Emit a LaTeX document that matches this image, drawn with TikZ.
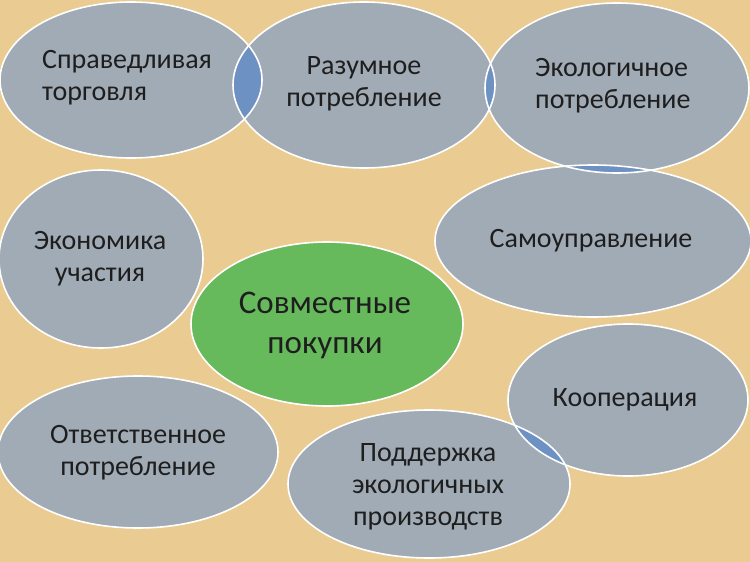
\documentclass[tikz,border=0pt]{standalone}
\usepackage{fontspec}
\setmainfont{Carlito}
\usetikzlibrary{shapes.geometric}
\definecolor{bg}{RGB}{234,204,146}
\definecolor{oval}{RGB}{161,171,181}
\definecolor{lens}{RGB}{110,145,195}
\definecolor{greenoval}{RGB}{102,186,92}
\definecolor{ink}{RGB}{30,30,30}
\tikzset{
  ovalfill/.style={fill=oval},
  ovalline/.style={draw=white, line width=1.6pt},
  lab/.style={text=ink, font=\fontsize{28}{32}\selectfont, inner sep=0pt},
  labbig/.style={text=ink, font=\fontsize{33}{40}\selectfont, inner sep=0pt}
}
\newcommand{\ov}[5]{% name, cx, cy, rx, ry
  \node[ellipse, inner sep=0pt, minimum width=#4*2pt, minimum height=#5*2pt] (#1) at (#2,#3) {};}
\begin{document}
\begin{tikzpicture}[x=1pt,y=-1pt]
\useasboundingbox (0,0) rectangle (750,562);
\clip (0,0) rectangle (750,562);
\fill[bg] (0,0) rectangle (750,562);
% ellipse nodes (geometry)
\ov{e1}{131}{80}{131}{78}
\ov{e2}{364}{85}{131}{83}
\ov{e3}{617}{88}{132}{85}
\ov{e4}{101}{259}{102}{89}
\ov{e5}{593}{241}{158}{76}
\ov{e6}{327}{324}{136}{82}
\ov{e7}{628}{400}{120}{76}
\ov{e8}{138}{452}{140}{76}
\ov{e9}{429}{484}{141}{74}
% fills
\fill[oval] (e1.center) ellipse [x radius=131pt, y radius=78pt];
\fill[oval] (e2.center) ellipse [x radius=131pt, y radius=83pt];
\fill[oval] (e3.center) ellipse [x radius=132pt, y radius=85pt];
\fill[oval] (e4.center) ellipse [x radius=102pt, y radius=89pt];
\fill[oval] (e5.center) ellipse [x radius=158pt, y radius=76pt];
\fill[greenoval] (e6.center) ellipse [x radius=136pt, y radius=82pt];
\fill[oval] (e7.center) ellipse [x radius=120pt, y radius=76pt];
\fill[oval] (e8.center) ellipse [x radius=140pt, y radius=76pt];
\fill[oval] (e9.center) ellipse [x radius=141pt, y radius=74pt];
% overlap lenses
\begin{scope}
  \clip (e1.center) ellipse [x radius=131pt, y radius=78pt];
  \fill[lens] (e2.center) ellipse [x radius=131pt, y radius=83pt];
\end{scope}
\begin{scope}
  \clip (e2.center) ellipse [x radius=131pt, y radius=83pt];
  \fill[lens] (e3.center) ellipse [x radius=132pt, y radius=85pt];
\end{scope}
\begin{scope}
  \clip (e3.center) ellipse [x radius=132pt, y radius=85pt];
  \fill[lens] (e5.center) ellipse [x radius=158pt, y radius=76pt];
\end{scope}
\begin{scope}
  \clip (e7.center) ellipse [x radius=120pt, y radius=76pt];
  \fill[lens] (e9.center) ellipse [x radius=141pt, y radius=74pt];
\end{scope}
% borders
\draw[ovalline] (e1.center) ellipse [x radius=131pt, y radius=78pt];
\draw[ovalline] (e2.center) ellipse [x radius=131pt, y radius=83pt];
\draw[ovalline] (e3.center) ellipse [x radius=132pt, y radius=85pt];
\draw[ovalline] (e4.center) ellipse [x radius=102pt, y radius=89pt];
\draw[ovalline] (e5.center) ellipse [x radius=158pt, y radius=76pt];
\draw[ovalline] (e6.center) ellipse [x radius=136pt, y radius=82pt];
\draw[ovalline] (e7.center) ellipse [x radius=120pt, y radius=76pt];
\draw[ovalline] (e8.center) ellipse [x radius=140pt, y radius=76pt];
\draw[ovalline] (e9.center) ellipse [x radius=141pt, y radius=74pt];
% labels
\node[lab, align=left, anchor=west] (t1) at (42,78) {Справедливая\\торговля};
\node[lab, align=center] (t2) at (364,84) {Разумное\\потребление};
\node[lab, align=left, anchor=west] (t3) at (535,86) {Экологичное\\потребление};
\node[lab, align=center] (t4) at (100,259) {Экономика\\участия};
\node[lab, align=center] (t5) at (591,241) {Самоуправление};
\node[labbig, align=center] (t6) at (325,325) {Совместные\\покупки};
\node[lab, align=center] (t7) at (625,400) {Кооперация};
\node[lab, align=center] (t8) at (138,453) {Ответственное\\потребление};
\node[lab, align=center] (t9) at (428,487) {Поддержка\\экологичных\\производств};
\end{tikzpicture}
\end{document}
